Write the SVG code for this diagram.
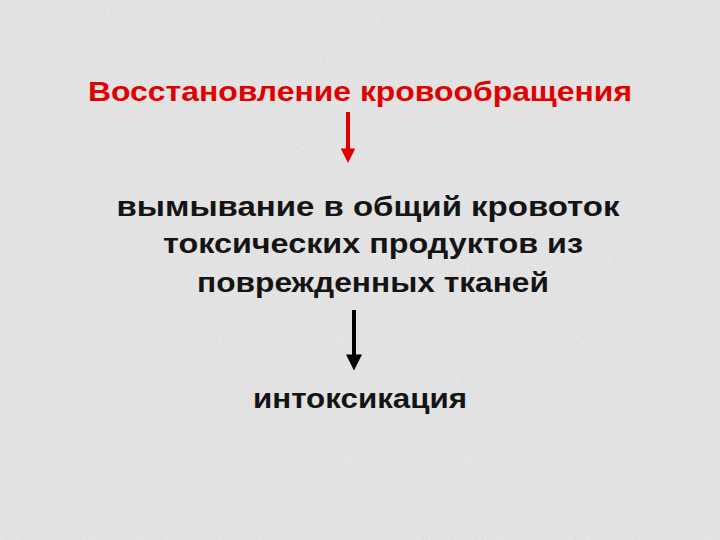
<svg xmlns="http://www.w3.org/2000/svg" width="720" height="540" viewBox="0 0 720 540">
  <defs>
    <filter id="grain" x="0" y="0" width="100%" height="100%">
      <feTurbulence type="fractalNoise" baseFrequency="0.9" numOctaves="2" seed="3" result="n"/>
      <feColorMatrix in="n" type="matrix" values="0 0 0 0 0.55  0 0 0 0 0.55  0 0 0 0 0.55  0 0 0 -1.6 1.1" result="g"/>
      <feComposite in="g" in2="SourceGraphic" operator="in"/>
    </filter>
    <marker id="headRed" viewBox="0 0 10 10" refX="1" refY="5" markerWidth="4.2" markerHeight="3.6" markerUnits="strokeWidth" orient="auto">
      <path d="M0,0 L10,5 L0,10 Z" fill="#e00000"/>
    </marker>
    <marker id="headBlack" viewBox="0 0 10 10" refX="1" refY="5" markerWidth="4.2" markerHeight="4" markerUnits="strokeWidth" orient="auto">
      <path d="M0,0 L10,5 L0,10 Z" fill="#000000"/>
    </marker>
  </defs>
  <style>
    .t { font-family: "Liberation Sans", Arial, sans-serif; font-weight: bold; font-size: 28px; text-anchor: middle; }
    .red { fill: #e00000; }
    .blk { fill: #141414; }
  </style>
  <rect width="720" height="540" fill="#e6e6e6"/>
  <rect width="720" height="540" fill="#e6e6e6" filter="url(#grain)" opacity="0.35"/>

  <g id="connectors">
    <line x1="348" y1="112" x2="348" y2="150" stroke="#e00000" stroke-width="4" marker-end="url(#headRed)"/>
    <line x1="354" y1="310" x2="354" y2="356" stroke="#000000" stroke-width="4" marker-end="url(#headBlack)"/>
  </g>

  <g id="node-title">
    <text class="t red" x="360" y="101" textLength="544" lengthAdjust="spacingAndGlyphs">Восстановление кровообращения</text>
  </g>
  <g id="node-washout">
    <text class="t blk" x="368" y="216" textLength="503" lengthAdjust="spacingAndGlyphs">вымывание в общий кровоток</text>
    <text class="t blk" x="373" y="253" textLength="420" lengthAdjust="spacingAndGlyphs">токсических продуктов из</text>
    <text class="t blk" x="373" y="292" textLength="352" lengthAdjust="spacingAndGlyphs">поврежденных тканей</text>
  </g>
  <g id="node-intox">
    <text class="t blk" x="360" y="408" textLength="214" lengthAdjust="spacingAndGlyphs">интоксикация</text>
  </g>
</svg>
